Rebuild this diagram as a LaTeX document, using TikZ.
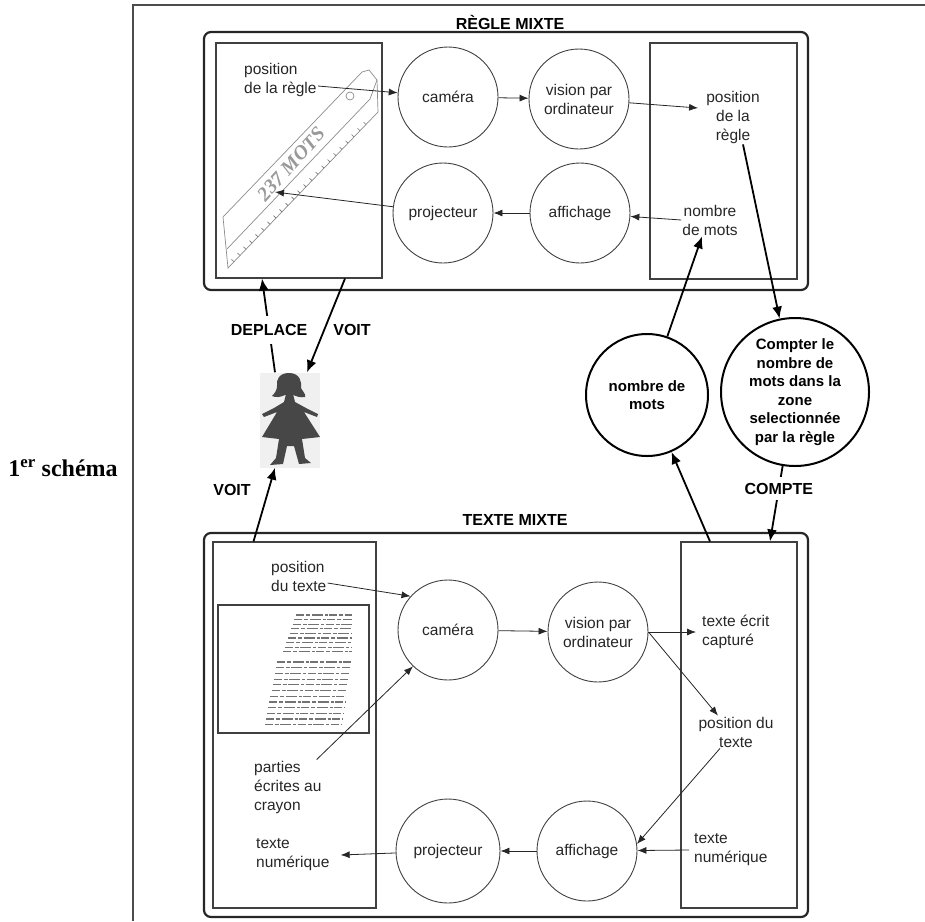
\documentclass[tikz,border=0pt]{standalone}
\usepackage{fontspec}
\setmainfont{Liberation Sans}
\newfontfamily\serifbf{Liberation Serif}
\usetikzlibrary{arrows.meta}
\newcommand{\fnLabel}{\fontsize{15.5}{19}\selectfont}
\newcommand{\fnBold}{\fontsize{15}{18.5}\selectfont\bfseries}
\newcommand{\fnTitle}{\fontsize{16}{19}\selectfont\bfseries}

\begin{document}
\begin{tikzpicture}[x=1pt,y=-1pt,
  proc/.style={circle,draw=black!75,line width=0.9pt,minimum size=100pt,inner sep=0pt,align=center,font=\fnLabel,text=black!85},
  bigproc/.style={circle,draw=black,line width=2pt,inner sep=0pt,align=center,font=\fnBold},
  lbl/.style={font=\fnLabel,text=black!85,inner sep=1pt},
  titletext/.style={font=\fnTitle,inner sep=2pt},
  inbox/.style={draw=black!75,line width=1.1pt,inner sep=0pt},
  outbox/.style={draw=black!85,line width=2.2pt,rounded corners=7pt},
  arr/.style={draw=black!85,line width=0.8pt,-{Latex[length=9pt,width=7pt]}},
  bigarr/.style={draw=black,line width=1.8pt,-{Latex[length=12pt,width=10pt]}},
  rulerline/.style={draw=black!45,line width=0.7pt},
  txtline/.style={draw=black!55,line width=1.2pt,dash pattern=on 8pt off 2pt on 4pt off 1.5pt on 11pt off 2pt on 3pt off 1.5pt}]
\useasboundingbox (0,0) rectangle (925,921);
\draw[black!70,line width=1.2pt] (133,921) -- (133,5) -- (925,5);
\node[font=\serifbf\fontsize{24}{28}\selectfont\bfseries] (schema) at (63,468) {1\textsuperscript{er} schéma};

\draw[outbox] (204,32) rectangle (808,290);
\node[titletext] (regle) at (510,22) {RÈGLE MIXTE};
\node[inbox,minimum width=166pt,minimum height=235pt] (rl1) at (299,160.5) {};
\node[inbox,minimum width=147pt,minimum height=236pt] (rr1) at (723.5,161) {};

\draw[rulerline] (223,217) -- (362,72) -- (369,70) -- (377,80) -- (378,112) -- (228,268) -- cycle;
\draw[rulerline] (227,249) -- (370,99) -- (377,80);
\draw[rulerline] (350,96) circle (4);
\foreach \t in {0.04,0.08,...,0.96} \draw[black!55,line width=0.6pt] ({228+150*\t},{268-156*\t}) -- ++(-2.5,-2.4);
\node[rotate=48,font=\serifbf\fontsize{20}{22}\selectfont\bfseries\itshape,text=black!40] (mots) at (291,164) {237 MOTS};

\node[proc] (cam1) at (448,97) {caméra};
\node[proc] (vis1) at (579,99) {vision par\\ordinateur};
\node[proc] (proj1) at (443,213) {projecteur};
\node[proc] (aff1) at (580,213) {affichage};
\node[lbl,anchor=west,align=left] (posr1) at (243,80) {position\\de la règle};
\node[lbl,align=center] (posr2) at (733,117) {position\\de la\\règle};
\node[lbl,align=center] (nbm1) at (710,220) {nombre\\de mots};
\coordinate (ruler) at (275,192);
\draw[arr] ([yshift=-6pt]posr1.east) -- (cam1);
\draw[arr] (cam1) -- (vis1);
\draw[arr] (vis1) -- ([xshift=-7pt,yshift=9pt]posr2.west);
\draw[arr] (nbm1.west) -- (aff1);
\draw[arr] (aff1) -- (proj1);
\draw[arr] (proj1) -- (ruler);

\draw[outbox] (204,533) rectangle (808,917);
\node[titletext] (texte) at (515,520) {TEXTE MIXTE};
\node[inbox,minimum width=163pt,minimum height=366pt] (rl2) at (294.5,725) {};
\node[inbox,minimum width=116pt,minimum height=366pt] (rr2) at (739,725) {};
\node[inbox,minimum width=151pt,minimum height=128pt] (page) at (293.5,669) {};
\foreach \i in {0,...,8} \draw[txtline] ({296-1.6*\i},{615+4.6*\i}) -- (352,{615+4.6*\i});
\foreach \i in {0,...,11} \draw[txtline] ({277-1.1*\i},{662+5.7*\i}) -- ({351-0.8*\i},{662+5.7*\i});

\node[proc] (cam2) at (448,630) {caméra};
\node[proc] (vis2) at (598,632) {vision par\\ordinateur};
\node[proc,minimum size=104pt] (proj2) at (448,851) {projecteur};
\node[proc] (aff2) at (587,851) {affichage};
\node[lbl,anchor=west,align=left] (post) at (270,576) {position\\du texte};
\node[lbl,anchor=west,align=left] (parties) at (253,787) {parties\\écrites au\\crayon};
\node[lbl,anchor=west,align=left] (tnum1) at (255,855) {texte\\numérique};
\node[lbl,anchor=west,align=left] (tec) at (701,632) {texte écrit\\capturé};
\node[lbl,align=center] (posd) at (736,732) {position du\\texte};
\node[lbl,anchor=west,align=left] (tnum2) at (693,850) {texte\\numérique};
\draw[arr] ([yshift=-7pt]post.east) -- (cam2.138);
\draw[arr] ([xshift=-6pt]parties.north east) -- (cam2.226);
\draw[arr] (cam2) -- (vis2);
\draw[arr] (vis2.east) -- ([xshift=-5pt]tec.west);
\draw[arr] (vis2.east) -- ([xshift=-18pt]posd.north);
\draw[arr] ([xshift=-16pt]posd.south) -- (aff2.8);
\draw[arr] ([xshift=-4pt]tnum2.west) -- (aff2);
\draw[arr] (aff2) -- (proj2);
\draw[arr] (proj2) -- ([xshift=10pt]tnum1.east);

\node[fill=black!6,minimum width=60pt,minimum height=95pt,inner sep=0pt] (girl) at (290,420) {};
\fill[black!72] (289,373) .. controls (300,373) and (302,382) .. (301,388) .. controls (303,392) and (306,394) .. (305,397) .. controls (300,398) and (296,396) .. (293,395) -- (285,395) .. controls (281,397) and (276,398) .. (272,396) .. controls (275,393) and (277,390) .. (277,386) .. controls (276,380) and (279,373) .. (289,373) -- cycle;
\fill[black!72] (286,394) -- (293,394) -- (295,402) -- (306,408) -- (318,414) -- (317,417) -- (304,412) -- (320,437) -- (302,439) -- (305,458) -- (311,463) -- (299,464) -- (294,446) -- (287,446) -- (283,464) -- (270,465) -- (276,458) -- (279,439) -- (262,437) -- (277,412) -- (264,417) -- (262,414) -- (274,408) -- (284,402) -- cycle;

\draw[bigarr] ([xshift=-15pt]girl.north) -- node[pos=0.45,fill=white,titletext,inner ysep=8pt] {DEPLACE} ([xshift=-37pt]rl1.south);
\draw[bigarr] ([xshift=46pt]rl1.south) -- ([xshift=17pt]girl.north);
\node[titletext] (voit1) at (352,330) {VOIT};
\draw[bigarr] ([xshift=-41pt]rl2.north) -- ([xshift=-15pt]girl.south);
\node[titletext] (voit2) at (232,490) {VOIT};

\node[bigproc,minimum size=148pt] (cnt) at (795,392) {Compter le\\nombre de\\mots dans la\\zone\\selectionnée\\par la règle};
\node[bigproc,minimum size=122pt] (nbm2) at (647,395) {nombre de\\mots};
\draw[bigarr] ([xshift=10pt]posr2.south) -- (cnt);
\draw[bigarr] (nbm2) -- ([xshift=-8pt]nbm1.south);
\draw[bigarr] (cnt) -- node[pos=0.3,fill=white,titletext,inner ysep=6pt] {COMPTE} ([xshift=31pt]rr2.north);
\draw[bigarr] ([xshift=-29pt]rr2.north) -- (nbm2);
\end{tikzpicture}
\end{document}
